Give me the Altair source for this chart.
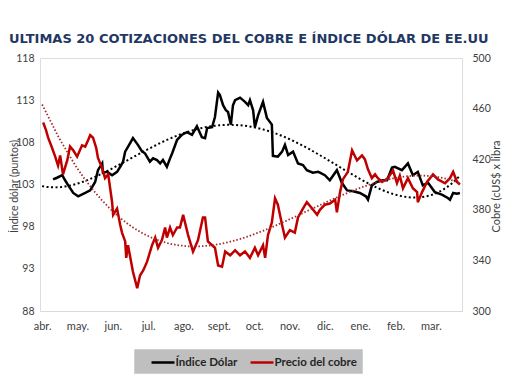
import altair as alt
import pandas as pd

MESES = ["abr.", "may.", "jun.", "jul.", "ago.", "sept.", "oct.", "nov.", "dic.", "ene.", "feb.", "mar."]
SERIES = ["Índice Dólar", "Precio del cobre"]
COLORES = ["#000000", "#C00000"]

MES_DOLAR = [0.31, 0.42, 0.57, 0.65, 0.74, 0.88, 1.02, 1.22, 1.36, 1.50, 1.58, 1.70, 1.72, 1.84, 1.98,
             2.12, 2.21, 2.29, 2.35, 2.49, 2.57, 2.71, 2.83, 2.91, 3.05, 3.14, 3.25, 3.34, 3.42, 3.53,
             3.62, 3.68, 3.82, 3.96, 4.10, 4.24, 4.38, 4.52, 4.61, 4.67, 4.81, 4.89, 4.98, 5.03, 5.12,
             5.20, 5.26, 5.34, 5.40, 5.46, 5.60, 5.74, 5.83, 5.88, 5.97, 6.02, 6.11, 6.25, 6.36, 6.50,
             6.53, 6.67, 6.79, 6.87, 6.96, 7.10, 7.24, 7.38, 7.49, 7.66, 7.81, 7.86, 8.00, 8.14, 8.34,
             8.48, 8.63, 8.80, 8.99, 9.16, 9.22, 9.33, 9.47, 9.64, 9.76, 9.90, 9.98, 10.18, 10.35, 10.49,
             10.63, 10.77, 10.92, 11.11, 11.31, 11.48, 11.54, 11.63, 11.74, 11.82]
DOLAR = [103.6, 103.8, 104.1, 103.5, 102.9, 102.0, 101.6, 102.0, 102.3, 103.3, 104.7, 105.5, 104.4, 104.5, 104.1,
         104.5, 105.1, 105.7, 106.9, 107.9, 108.5, 107.7, 106.9, 106.7, 105.7, 106.1, 105.9, 105.5, 105.9, 105.1,
         106.1, 106.7, 108.3, 108.9, 109.2, 108.9, 109.9, 108.6, 108.5, 109.7, 109.8, 111.0, 113.9, 113.6, 112.4,
         111.8, 111.6, 110.1, 112.4, 113.0, 113.3, 112.8, 112.4, 113.0, 111.8, 109.8, 111.2, 112.8, 110.9, 110.1,
         106.4, 106.3, 106.9, 107.7, 106.5, 106.9, 105.5, 105.3, 104.7, 104.4, 104.5, 104.4, 104.1, 103.5, 104.7,
         103.2, 102.3, 102.2, 102.0, 101.6, 101.2, 102.9, 103.3, 103.5, 103.5, 105.0, 105.1, 104.7, 105.5, 104.1,
         104.5, 102.9, 103.2, 102.1, 101.8, 101.4, 101.2, 102.0, 101.9, 102.0]

MES_COBRE = [0.03, 0.11, 0.17, 0.28, 0.37, 0.45, 0.51, 0.59, 0.71, 0.79, 0.88, 0.99, 1.13, 1.22, 1.30,
             1.36, 1.44, 1.53, 1.58, 1.70, 1.78, 1.87, 1.98, 2.01, 2.12, 2.21, 2.26, 2.35, 2.38, 2.43,
             2.57, 2.69, 2.77, 2.86, 2.97, 3.11, 3.20, 3.28, 3.39, 3.48, 3.53, 3.62, 3.70, 3.82, 3.90,
             3.99, 4.13, 4.27, 4.41, 4.55, 4.61, 4.69, 4.81, 4.89, 4.98, 5.09, 5.18, 5.32, 5.46, 5.60,
             5.74, 5.88, 6.02, 6.11, 6.25, 6.31, 6.39, 6.50, 6.59, 6.67, 6.79, 6.87, 7.01, 7.15, 7.24,
             7.38, 7.49, 7.64, 7.78, 7.86, 8.00, 8.14, 8.29, 8.34, 8.43, 8.51, 8.65, 8.77, 8.91, 9.05,
             9.13, 9.22, 9.33, 9.42, 9.50, 9.62, 9.78, 9.93, 10.04, 10.12, 10.21, 10.35, 10.49, 10.61, 10.63,
             10.75, 10.89, 11.06, 11.20, 11.40, 11.54, 11.63, 11.74, 11.82]
COBRE = [449, 443, 437, 429, 422, 415, 423, 408, 419, 430, 427, 422, 431, 430, 435,
         439, 437, 429, 421, 413, 405, 408, 386, 376, 381, 368, 362, 355, 342, 352,
         331, 318, 328, 332, 339, 352, 358, 350, 356, 366, 358, 366, 360, 366, 366,
         376, 360, 347, 356, 374, 374, 355, 352, 350, 336, 335, 347, 344, 348, 344,
         347, 342, 350, 344, 352, 342, 360, 370, 389, 384, 368, 358, 364, 362, 374,
         381, 386, 381, 376, 380, 384, 385, 388, 378, 394, 404, 410, 427, 419, 423,
         420, 412, 405, 408, 405, 402, 405, 411, 401, 407, 397, 405, 397, 394, 386,
         394, 402, 408, 404, 401, 405, 410, 402, 400]

TICKS_DOLAR = [88, 93, 98, 103, 108, 113, 118]
TICKS_COBRE = [300, 340, 380, 420, 460, 500]

dolar_df = pd.DataFrame({"mes": MES_DOLAR, "valor": DOLAR, "serie": SERIES[0]})
cobre_df = pd.DataFrame({"mes": MES_COBRE, "valor": COBRE, "serie": SERIES[1]})

FONT = "Lato"
GRIS = "#404040"
month_expr = "[" + ",".join("'%s'" % m for m in MESES) + "][datum.value]"

x_enc = alt.X(
    "mes:Q",
    scale=alt.Scale(domain=[-0.06, 11.88], nice=False, zero=False),
    axis=alt.Axis(values=list(range(len(MESES))), labelExpr=month_expr, ticks=False, grid=False,
                  domainColor="#D9D9D9", domainWidth=1, labelPadding=9, labelFont=FONT,
                  labelFontSize=11, labelColor=GRIS, labelFlush=False, labelOverlap=False, title=None),
)

y_left = alt.Y(
    "valor:Q",
    scale=alt.Scale(domain=[88, 118], nice=False, zero=False),
    axis=alt.Axis(values=TICKS_DOLAR, grid=False, ticks=False, domain=False, labelPadding=6,
                  labelFont=FONT, labelFontSize=10.5, labelColor=GRIS, labelFlush=False, labelOverlap=False,
                  title="Índice dólar (puntos)", titleFont=FONT, titleFontSize=10.5, titleFontWeight="normal",
                  titleColor=GRIS, titleAngle=270, titleX=-31, titleY=128, titleAlign="center",
                  titleBaseline="top"),
)

y_right = alt.Y(
    "valor:Q",
    scale=alt.Scale(domain=[300, 500], nice=False, zero=False),
    axis=alt.Axis(orient="right", values=TICKS_COBRE, grid=False, ticks=False, domain=False, labelPadding=10,
                  labelFont=FONT, labelFontSize=10.5, labelColor=GRIS, labelFlush=False, labelOverlap=False,
                  title="Cobre (cUS$ x libra", titleFont=FONT, titleFontSize=11, titleFontWeight="normal",
                  titleColor=GRIS, titleAngle=270, titleX=28, titleY=128, titleAlign="center",
                  titleBaseline="top"),
)

legend = alt.Legend(
    title=None, orient="none", legendX=94, legendY=291, direction="horizontal",
    fillColor="#BFBFBF", strokeColor="#D0D0D0", padding=5,
    symbolType="M-1.64,0H1.64", symbolSize=196, symbolStrokeWidth=2.5, symbolOffset=15.5,
    labelOffset=4, columnPadding=0, labelFont=FONT, labelFontSize=11.5, labelFontWeight="bold",
    labelColor="#262626",
)
color_enc = alt.Color("serie:N", scale=alt.Scale(domain=SERIES, range=COLORES), legend=legend)

dolar_line = alt.Chart(dolar_df).mark_line(strokeWidth=2.5).encode(x=x_enc, y=y_left, color=color_enc)
dolar_trend = alt.Chart(dolar_df).transform_regression(
    "mes", "valor", method="poly", order=4, extent=[0, 11.82]
).mark_line(strokeWidth=2, strokeDash=[2, 2.5], color="#000000").encode(x=x_enc, y=y_left)

cobre_line = alt.Chart(cobre_df).mark_line(strokeWidth=2.5).encode(x=x_enc, y=y_right, color=color_enc)
cobre_trend = alt.Chart(cobre_df).transform_regression(
    "mes", "valor", method="poly", order=3, extent=[0, 11.82]
).mark_line(strokeWidth=1.8, strokeDash=[1.5, 2], color="#A52A2A").encode(x=x_enc, y=y_right)

chart = alt.layer(
    alt.layer(dolar_line, dolar_trend),
    alt.layer(cobre_line, cobre_trend),
).resolve_scale(y="independent").properties(
    width=422,
    height=253,
    autosize=alt.AutoSizeParams(type="none"),
    padding={"left": 32, "top": 50, "right": 40, "bottom": 63},
    title=alt.TitleParams(
        "ULTIMAS 20 COTIZACIONES DEL COBRE E ÍNDICE DÓLAR DE EE.UU",
        anchor="start", frame="group", font="DejaVu Sans", fontSize=13, fontWeight="bold",
        color="#1F3864", dx=-31, offset=7,
    ),
).configure_view(stroke=None).configure(background="white")

chart.save("out.html", embed_options={"renderer": "svg", "actions": False})
